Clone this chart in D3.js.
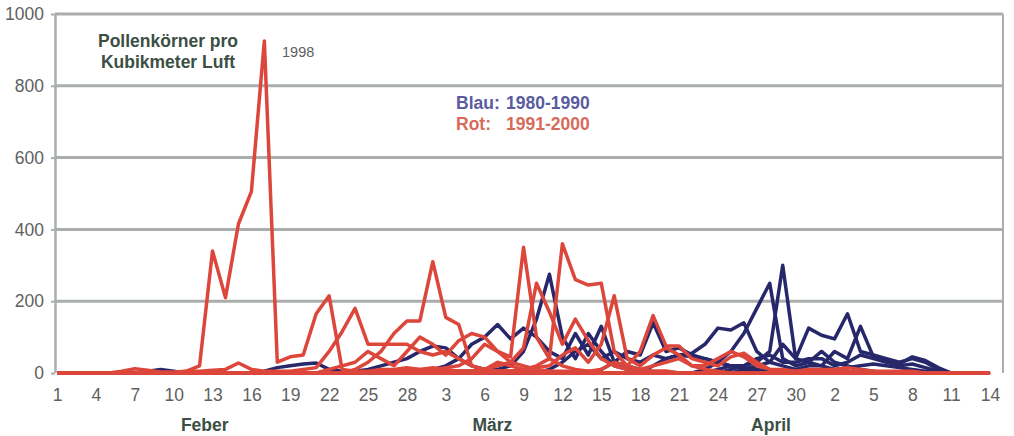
<!DOCTYPE html>
<html><head><meta charset="utf-8">
<script src="https://cdn.jsdelivr.net/npm/d3@7"></script>
<style>body{margin:0;background:#fff}svg{display:block}</style>
</head><body>
<svg id="c" width="1014" height="436"></svg>
<script>
// Day labels: Feb 1..28, Mar 1..31, Apr 1..14
const febDays = d3.range(1, 29);
const marDays = d3.range(1, 32);
const aprDays = d3.range(1, 15);
const dayLabels = [...febDays, ...marDays, ...aprDays];
const tickEvery = 3;
const yTicks = [0, 200, 400, 600, 800, 1000];
const months = ["Feber", "März", "April"];
const monthCenterIndex = [11.4, 33.6, 55.1];

// Red: 1991-2000  (Feb | Mar | Apr)
const red1 = [0,0,0,0,0,0,0,0,0,0,5,20,340,210,415,505,925,30,45,50,165,215,10,5,5,10,10,15,
  10,15,10,5,5,10,5,5,5,0,0,0,0,0,0,0,0,0,0,0,0,0,0,0,0,0,0,0,0,0,0,
  0,0,0,0,0,0,0,0,0,0,0,0,0,0];
const red2 = [0,0,0,0,0,5,12,8,3,3,5,5,8,10,28,10,5,5,5,10,15,60,115,180,80,80,80,80,
  60,50,60,40,20,10,5,5,0,0,0,0,0,0,0,0,0,0,0,0,0,0,0,0,0,0,0,0,0,0,0,
  0,0,0,0,0,0,0,0,0,0,0,0,0,0];
const red3 = [0,0,0,0,0,0,0,0,0,0,0,0,0,0,0,0,0,0,0,0,0,0,0,10,30,60,110,145,
  145,310,155,135,20,10,30,20,10,5,0,0,0,0,0,0,0,0,0,0,0,0,0,0,0,0,0,0,0,0,0,
  0,0,0,0,0,0,0,0,0,0,0,0,0,0];
const red4 = [0,0,0,0,0,0,0,0,0,0,0,0,0,0,0,0,0,0,0,0,0,0,0,0,0,5,5,10,
  10,10,15,20,40,80,60,45,350,100,40,20,10,5,0,0,0,0,0,0,0,0,0,0,0,0,0,0,0,0,0,
  0,0,0,0,0,0,0,0,0,0,0,0,0,0];
const red5 = [0,0,0,0,0,0,0,0,0,0,0,0,0,0,0,0,0,0,0,0,0,0,0,0,0,0,0,0,
  0,5,5,5,5,10,20,30,70,250,170,80,150,90,40,20,10,5,5,5,0,0,0,0,0,0,0,0,0,0,0,
  0,0,0,0,0,0,0,0,0,0,0,0,0,0];
const red6 = [0,0,0,0,0,0,0,0,0,0,0,0,0,0,0,0,0,0,0,0,0,0,0,0,0,0,0,0,
  0,0,0,0,5,5,5,5,10,20,40,360,260,245,250,60,20,10,5,5,0,0,0,0,0,0,0,0,0,0,0,
  0,0,0,0,0,0,0,0,0,0,0,0,0,0];
const red7 = [0,0,0,0,0,0,0,0,0,0,0,0,0,0,0,0,0,0,0,0,0,0,0,0,0,0,0,0,
  0,0,0,0,0,0,5,5,10,15,20,50,70,30,80,215,40,20,50,70,50,20,10,5,0,0,0,0,0,0,0,
  0,0,0,0,0,0,0,0,0,0,0,0,0,0];
const red8 = [0,0,0,0,0,0,0,0,0,0,0,0,0,0,0,0,0,0,0,0,0,0,0,0,0,0,0,0,
  0,0,0,0,0,0,0,0,0,5,5,5,5,5,10,30,20,60,160,75,75,40,30,20,45,55,30,10,5,5,5,
  5,5,5,0,0,0,0,0,0,0,0,0,0,0];
const red9 = [0,0,0,0,0,0,0,0,0,0,0,0,0,0,0,0,0,0,0,0,0,10,20,30,60,40,20,60,
  100,80,50,90,110,100,60,30,20,10,5,0,0,0,0,0,0,0,0,0,0,0,0,0,0,0,0,0,0,0,0,
  0,0,0,0,0,0,0,0,0,0,0,0,0,0];
const red10 = [0,0,0,0,0,0,0,0,0,0,0,0,0,0,0,0,0,0,0,0,0,0,0,0,0,0,0,0,
  0,0,0,0,0,0,0,0,0,0,0,0,0,0,0,0,0,10,20,30,40,20,20,40,60,45,20,10,10,5,10,
  10,10,15,10,5,5,5,5,0,0,0,0,0,0];

// Blue: 1980-1990
const blue1 = [0,0,0,0,0,0,0,5,10,5,0,0,0,0,0,0,0,0,0,0,0,0,0,0,0,0,0,0,
  0,0,5,5,5,10,10,20,60,150,275,100,40,110,60,20,10,5,0,0,0,0,0,0,0,0,0,0,0,0,0,
  0,0,0,0,0,0,0,0,0,0,0,0,0,0];
const blue2 = [0,0,0,0,0,0,0,0,0,0,0,0,0,0,0,0,0,0,0,0,0,0,0,0,0,0,0,0,
  5,10,20,40,80,100,135,95,125,100,60,40,110,50,130,30,20,10,0,0,0,0,0,0,0,0,0,0,0,0,0,
  0,0,0,0,0,0,0,0,0,0,0,0,0,0];
const blue3 = [0,0,0,0,0,0,0,0,0,0,0,0,0,0,0,0,5,15,20,25,28,10,5,5,10,20,30,40,
  60,75,70,40,20,10,5,0,0,0,0,0,0,0,0,0,0,0,0,0,0,0,0,0,0,0,0,0,0,0,0,
  0,0,0,0,0,0,0,0,0,0,0,0,0,0];
const blue4 = [0,0,0,0,0,0,0,0,0,0,0,0,0,0,0,0,0,0,0,0,0,0,0,0,0,0,0,0,
  0,0,0,0,0,0,0,0,0,0,0,0,0,0,10,30,60,50,140,60,70,50,40,30,20,10,5,0,0,0,0,
  0,0,0,0,0,0,0,0,0,0,0,0,0,0];
const blue5 = [0,0,0,0,0,0,0,0,0,0,0,0,0,0,0,0,0,0,0,0,0,0,0,0,0,0,0,0,
  0,0,0,0,0,0,0,0,0,0,0,0,0,0,0,0,0,0,20,40,50,55,80,125,120,140,60,30,80,40,30,
  20,10,5,0,0,0,0,0,0,0,0,0,0,0];
const blue6 = [0,0,0,0,0,0,0,0,0,0,0,0,0,0,0,0,0,0,0,0,0,0,0,0,0,0,0,0,
  0,0,0,0,0,0,0,0,0,0,0,0,0,0,0,0,0,0,0,0,0,0,10,30,60,110,180,250,40,20,30,
  60,30,20,10,5,0,0,0,0,0,0,0,0,0];
const blue7 = [0,0,0,0,0,0,0,0,0,0,0,0,0,0,0,0,0,0,0,0,0,0,0,0,0,0,0,0,
  0,0,0,0,0,0,0,0,0,0,0,0,0,0,0,0,0,0,0,0,0,0,0,10,20,20,30,60,300,40,125,
  105,95,165,60,50,40,30,40,30,10,0,0,0,0];
const blue8 = [0,0,0,0,0,0,0,0,0,0,0,0,0,0,0,0,0,0,0,0,0,0,0,0,0,0,0,0,
  0,0,0,0,0,0,0,0,0,0,0,0,0,0,0,0,0,0,0,0,0,0,0,0,0,10,20,30,20,10,20,
  20,60,40,130,45,35,25,45,35,15,0,0,0,0];
const blue9 = [0,0,0,0,0,0,0,0,0,0,0,0,0,0,0,0,0,0,0,0,0,0,0,0,0,0,0,0,
  0,0,0,0,0,0,0,0,0,0,10,30,60,80,40,60,40,30,50,40,50,45,40,30,20,15,10,5,5,5,5,
  5,10,15,20,25,20,15,10,5,0,0,0,0,0];
const blue10 = [0,0,0,0,0,0,0,0,0,0,0,0,0,0,0,0,0,0,0,0,0,0,0,0,0,0,0,0,
  0,0,0,0,0,0,0,0,0,0,0,0,0,0,0,0,0,0,0,0,0,0,0,0,10,20,40,50,30,30,40,
  40,20,30,50,40,30,20,25,15,5,0,0,0,0];

const blueSeries = [blue1, blue2, blue3, blue4, blue5, blue6, blue7, blue8, blue9, blue10];
const redSeries = [red1, red2, red3, red4, red5, red6, red7, red8, red9, red10];

const svg = d3.select("#c");
const x = d3.scaleLinear().domain([0, 73]).range([57, 1003]);
const y = d3.scaleLinear().domain([0, 1000]).range([373, 14]);
const gridCol = "#a9aeab";
const txtCol = "#606060";
const darkGreen = "#3c4f44";
const font = "Liberation Sans, Arial, sans-serif";

// gridlines
svg.append("g").selectAll("line").data(yTicks.filter(v => v > 0)).join("line")
  .attr("x1", 55).attr("x2", 1003).attr("y1", d => y(d)).attr("y2", d => y(d))
  .attr("stroke", gridCol).attr("stroke-width", 3);
// left & right borders
svg.append("line").attr("x1", 55.5).attr("x2", 55.5).attr("y1", y(1000)).attr("y2", y(0))
  .attr("stroke", gridCol).attr("stroke-width", 2.5);
svg.append("line").attr("x1", 1003).attr("x2", 1003).attr("y1", y(1000)).attr("y2", y(0))
  .attr("stroke", gridCol).attr("stroke-width", 2);

// y axis
const yAxis = d3.axisLeft(y).tickValues(yTicks).tickFormat(d3.format("d")).tickSize(4).tickPadding(7);
const gy = svg.append("g").attr("transform", "translate(55,0)").call(yAxis);
gy.select(".domain").remove();
gy.selectAll(".tick line").attr("stroke", gridCol).attr("stroke-width", 2);
gy.selectAll("text").attr("fill", txtCol).attr("font-family", font).attr("font-size", 17.5);

// x axis
const idx = d3.range(dayLabels.length).filter(i => i % tickEvery === 0);
const xAxis = d3.axisBottom(x).tickValues(idx).tickFormat(i => dayLabels[i]).tickSize(0).tickPadding(16);
const gx = svg.append("g").attr("transform", `translate(0,${y(0)})`).call(xAxis);
gx.select(".domain").remove();
gx.selectAll("text").attr("fill", txtCol).attr("font-family", font).attr("font-size", 17.5);

// month labels
svg.append("g").selectAll("text").data(months).join("text")
  .attr("x", (d, i) => x(monthCenterIndex[i])).attr("y", 431)
  .attr("text-anchor", "middle").attr("fill", darkGreen)
  .attr("font-family", font).attr("font-weight", "bold").attr("font-size", 17.5)
  .text(d => d);

// lines
const line = d3.line().x((d, i) => x(i)).y(d => y(d)).curve(d3.curveLinear);
const lg = svg.append("g").attr("fill", "none").attr("stroke-linejoin", "round").attr("stroke-width", 3.5);
lg.selectAll(".b").data(blueSeries).join("path").attr("class", "b").attr("d", line).attr("stroke", "#26286b");
lg.selectAll(".r").data(redSeries).join("path").attr("class", "r").attr("d", line).attr("stroke", "#dc463b");

// title
const t = svg.append("text").attr("fill", darkGreen).attr("font-family", font)
  .attr("font-weight", "bold").attr("font-size", 17.5).attr("text-anchor", "middle");
t.append("tspan").attr("x", 168).attr("y", 47).text("Pollenkörner pro");
t.append("tspan").attr("x", 168).attr("y", 68).text("Kubikmeter Luft");
svg.append("text").attr("x", 282).attr("y", 57).attr("fill", txtCol)
  .attr("font-family", font).attr("font-size", 14.5).text("1998");

// legend
const l1 = svg.append("text").attr("y", 109).attr("fill", "#5a5c9e").attr("font-family", font).attr("font-weight", "bold").attr("font-size", 17.5);
l1.append("tspan").attr("x", 456).text("Blau:");
l1.append("tspan").attr("x", 506).text("1980-1990");
const l2 = svg.append("text").attr("y", 130).attr("fill", "#d76b5b").attr("font-family", font).attr("font-weight", "bold").attr("font-size", 17.5);
l2.append("tspan").attr("x", 456).text("Rot:");
l2.append("tspan").attr("x", 506).text("1991-2000");
</script>
</body></html>
